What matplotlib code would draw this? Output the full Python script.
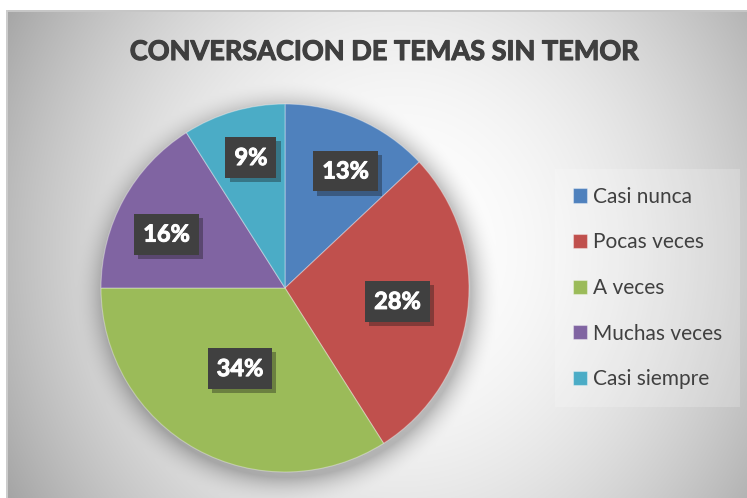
import numpy as np
import matplotlib.pyplot as plt
import matplotlib.patheffects as pe

# data
categories = ['Casi nunca', 'Pocas veces', 'A veces', 'Muchas veces', 'Casi siempre']
percent = [13, 28, 34, 16, 9]
colors = ['#4F81BD', '#C0504D', '#9BBB59', '#8064A2', '#4BACC6']
title = 'CONVERSACION DE TEMAS SIN TEMOR'

# where the data labels sit, in units of the pie radius (best-fit placement)
label_xy = [(0.329, 0.636), (0.611, -0.073), (-0.245, -0.438), (-0.644, 0.293), (-0.185, 0.709)]

plt.rcParams['font.family'] = ['Lato', 'DejaVu Sans']

W, H = 747, 498
cx_pie, cy_pie, R = 285, 288, 184

fig = plt.figure(figsize=(W / 100, H / 100), dpi=100)
fig.patch.set_facecolor('white')

###### background: radial gradient + soft pie shadow
yy, xx = np.mgrid[0:H, 0:W].astype(float)
u = (xx - 400) / 370.0
v = (yy - 250) / 400.0
r = np.sqrt(u ** 2 + v ** 2)
bg = 255 - 60 * r ** 2
d = np.sqrt((xx - cx_pie - 2) ** 2 + (yy - cy_pie - 5) ** 2)
sh = np.clip(1 - (d - R) / 30.0, 0, 1) ** 2
bg = bg * (1 - 0.25 * sh)
bg = np.clip(bg, 0, 255) / 255.0
img = np.dstack([bg, bg, bg])
img[:, :6] = 1.0
img[:10, :] = 1.0
img[10:12, 6:] = 0.78
img[10:, 6:8] = 0.8

axbg = fig.add_axes([0, 0, 1, 1])
axbg.imshow(img, extent=(0, W, H, 0), interpolation='bilinear')
axbg.set_xlim(0, W)
axbg.set_ylim(H, 0)
axbg.axis('off')

###### pie
ax = fig.add_axes([(cx_pie - R) / W, (H - cy_pie - R) / H, 2 * R / W, 2 * R / H])
wedges, _ = ax.pie(percent, colors=colors, startangle=90, counterclock=False, radius=1,
                   wedgeprops={'linewidth': 0.8, 'edgecolor': (1, 1, 1, 0.35)})
ax.set_xlim(-1, 1)
ax.set_ylim(-1, 1)
ax.set_aspect('equal')
ax.axis('off')

for p, (x, y) in zip(percent, label_xy):
	t = ax.text(x, y, '%d%%' % p, ha='center', va='center', fontsize=17, fontweight='bold',
	            color='white',
	            path_effects=[pe.withStroke(linewidth=0.7, foreground='white')],
	            bbox=dict(boxstyle='square,pad=0.38', fc='#404040', ec='none'))
	t.get_bbox_patch().set_path_effects([pe.SimplePatchShadow(offset=(3, -3), alpha=0.35),
	                                     pe.Normal()])

###### title
fig.text(384 / W, 1 - 52 / H, title, ha='center', va='center', fontsize=19.5,
         fontweight='bold', color='#3F3F3F',
         path_effects=[pe.withStroke(linewidth=0.8, foreground='#3F3F3F')])

###### legend
leg = fig.legend(wedges, categories, loc='center left', bbox_to_anchor=(555 / W, 1 - 288 / H),
                 frameon=True, framealpha=0.2, fontsize=15, labelcolor='#404040',
                 handlelength=0.68, handleheight=0.68, handletextpad=0.3, labelspacing=1.23,
                 borderpad=0.85, borderaxespad=0, fancybox=False)
leg.get_frame().set_facecolor('white')
leg.get_frame().set_edgecolor('none')

fig.savefig('out.png', dpi=100)
